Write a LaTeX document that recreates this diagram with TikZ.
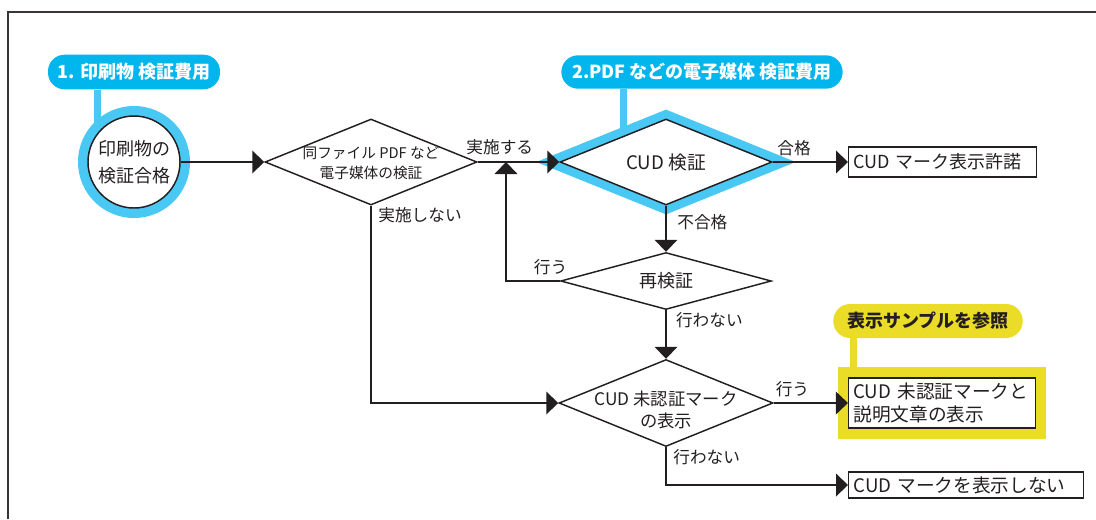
\documentclass[tikz,border=0pt]{standalone}
\usepackage{fontspec}
\setmainfont{Noto Sans CJK JP}
\usetikzlibrary{shapes.geometric,arrows.meta,calc,backgrounds}
\definecolor{inkgray}{HTML}{231F20}
\definecolor{tagblue}{HTML}{00B6EC}
\definecolor{ringblue}{HTML}{48C8F2}
\definecolor{markyellow}{HTML}{EBDC28}
\newcommand{\dtext}[2][-0.4em]{%
  \smash{\makebox[0pt]{\raisebox{#1}{\begin{tabular}{@{}c@{}}#2\end{tabular}}}}}
\tikzset{
  decision/.style={diamond, draw=inkgray, fill=white, line width=1.1pt, inner sep=0pt, text=inkgray},
  result/.style={rectangle, draw=inkgray, fill=white, line width=1.1pt, text=inkgray,
    font=\fontsize{14}{17}\selectfont, inner xsep=3.5pt, inner ysep=0pt, align=left},
  tag/.style={rectangle, rounded corners=12.5pt, fill=tagblue, text=white,
    font=\bfseries\fontsize{13.5}{16}\selectfont, inner sep=0pt},
  tagbar/.style={ringblue, line width=5.25pt},
  flow/.style={draw=inkgray, line width=1.1pt, -{Triangle[length=9pt,width=17pt]}},
  lbl/.style={text=inkgray, font=\fontsize{12.5}{15}\selectfont, inner sep=1pt},
}
\begin{document}
\begin{tikzpicture}[x=0.75pt,y=-0.75pt]
  \useasboundingbox (0,0) rectangle (1096,519);
  % frame
  \draw[inkgray!90, line width=1.8pt] (8,519) -- (8,12) -- (1096,12);

  % tags
  \node[tag, minimum width=129pt, minimum height=26pt] (tag1) at (134,72) {1. 印刷物 検証費用};
  \node[tag, minimum width=211pt, minimum height=25pt] (tag2) at (702,72) {2.PDF などの電子媒体 検証費用};
  \node[tag, fill=markyellow, text=inkgray, minimum width=142pt, minimum height=25.5pt] (tag3) at (928,321) {表示サンプルを参照};

  % steps
  \node[circle, draw=inkgray, fill=white, line width=1.1pt, minimum size=69pt, inner sep=0pt,
    align=center, text=inkgray, font=\fontsize{13.5}{20}\selectfont,
    preaction={draw=ringblue, line width=15pt}] (start) at (134,162) {印刷物の\\検証合格};
  \node[decision, minimum width=159pt, minimum height=64.5pt, font=\fontsize{11}{15}\selectfont]
    (check) at (371,162) {\dtext{同ファイル PDF など\\電子媒体の検証}};
  \node[decision, minimum width=159pt, minimum height=64.5pt, font=\fontsize{14}{17}\selectfont,
    preaction={draw=ringblue, line width=13.5pt}] (cud) at (666,162) {\dtext{CUD 検証}};
  \node[result, anchor=west, text width=134pt, minimum height=22.5pt, font=\fontsize{13.5}{17}\selectfont]
    (okbox) at (848,162) {\mbox{CUD マーク表示許諾}};
  \node[decision, minimum width=158pt, minimum height=42.75pt, font=\fontsize{13.5}{17}\selectfont]
    (recheck) at (666,281) {\dtext{再検証}};
  \node[decision, minimum width=160.5pt, minimum height=65.25pt, font=\fontsize{13}{16.5}\selectfont]
    (deco) at (666,403) {\dtext[-0.75em]{CUD 未認証マーク\\の表示}};
  \node[result, text width=133pt, minimum height=37.5pt, font=\fontsize{14}{17}\selectfont,
    preaction={draw=markyellow, line width=16.5pt}] (samplebox) at (942,403) {CUD 未認証マークと\\説明文章の表示};
  \node[result, anchor=west, text width=169pt, minimum height=19.5pt] (nobox) at (848,485) {CUD マークを表示しない};

  % tag bars
  \begin{scope}[on background layer]
    \draw[tagbar] ($(tag1.south)+(-37,0)$) -- ($(start.center)+(-37,0)$);
    \draw[tagbar] ($(tag2.south)+(-79,0)$) -- ($(cud.center)+(-43,0)$);
    \draw[tagbar, markyellow] ($(tag3.south)+(-75,0)$) -- ($(samplebox.center)+(-89,0)$);
  \end{scope}

  % connectors
  \coordinate (join) at (506,162);
  \draw[flow] (start.east) -- (check.west);
  \draw[flow] (check.east) -- node[lbl, above=4pt, pos=0.27] {実施する} (cud.west);
  \draw[flow] (check.south) node[lbl, anchor=north west, xshift=4pt] {実施しない} |- (deco.west);
  \draw[flow] (cud.east) node[lbl, anchor=south west, xshift=2pt, yshift=3pt] {合格} -- (okbox.west);
  \draw[flow] (cud.south) node[lbl, anchor=north west, xshift=7pt, yshift=-5pt] {不合格} -- (recheck.north);
  \draw[flow] (recheck.west) node[lbl, anchor=south east, xshift=7pt, yshift=3pt] {行う} -| (join);
  \draw[flow] (recheck.south) node[lbl, anchor=north west, xshift=6pt] {行わない} -- (deco.north);
  \draw[flow] (deco.east) node[lbl, anchor=south west, yshift=3pt] {行う} -- (samplebox.west);
  \draw[flow] (deco.south) node[lbl, anchor=north west, xshift=4pt] {行わない} |- (nobox.west);
\end{tikzpicture}
\end{document}
